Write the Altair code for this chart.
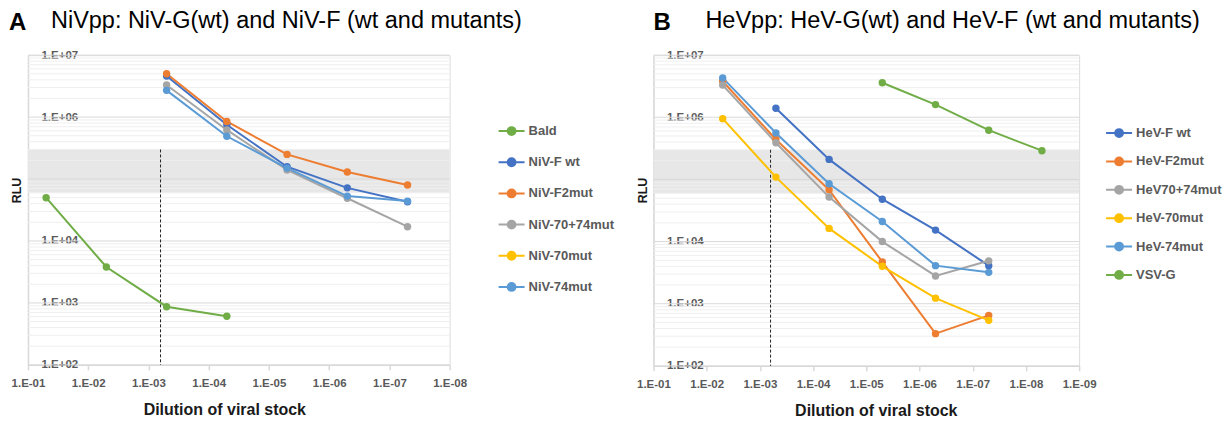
import altair as alt
import pandas as pd

FONT = "Liberation Sans"

# ---------------- Panel A : NiVpp ----------------
niv_dilution = [5e-2, 5e-3, 5e-4, 5e-5, 5e-6, 5e-7, 5e-8]
niv_series = ["Bald", "NiV-F wt", "NiV-F2mut", "NiV-70+74mut", "NiV-70mut", "NiV-74mut"]
niv_colors = ["#70AD47", "#4472C4", "#ED7D31", "#A5A5A5", "#FFC000", "#5B9BD5"]
niv_bald = [5.0e4, 3.8e3, 8.7e2, 6.1e2, None, None, None]
niv_fwt = [None, None, 4.6e6, 7.5e5, 1.58e5, 7.2e4, 4.3e4]
niv_f2mut = [None, None, 5.0e6, 8.5e5, 2.5e5, 1.3e5, 8.0e4]
niv_7074 = [None, None, 3.3e6, 6.2e5, 1.4e5, 4.9e4, 1.7e4]
niv_70 = [None, None, None, None, None, None, None]
niv_74 = [None, None, 2.7e6, 4.9e5, 1.5e5, 5.3e4, 4.4e4]
niv_values = [niv_bald, niv_fwt, niv_f2mut, niv_7074, niv_70, niv_74]

# ---------------- Panel B : HeVpp ----------------
hev_dilution = [5e-3, 5e-4, 5e-5, 5e-6, 5e-7, 5e-8, 5e-9]
hev_series = ["HeV-F wt", "HeV-F2mut", "HeV70+74mut", "HeV-70mut", "HeV-74mut", "VSV-G"]
hev_colors = ["#4472C4", "#ED7D31", "#A5A5A5", "#FFC000", "#5B9BD5", "#70AD47"]
hev_fwt = [None, 1.4e6, 2.1e5, 4.8e4, 1.53e4, 4.1e3, None]
hev_f2mut = [3.8e6, 4.4e5, 6.8e4, 4.7e3, 3.3e2, 6.5e2, None]
hev_7074 = [3.3e6, 3.9e5, 5.2e4, 1.0e4, 2.8e3, 4.9e3, None]
hev_70 = [9.5e5, 1.09e5, 1.63e4, 4.0e3, 1.23e3, 5.4e2, None]
hev_74 = [4.3e6, 5.6e5, 8.5e4, 2.1e4, 4.1e3, 3.2e3, None]
hev_vsv = [None, None, None, 3.6e6, 1.6e6, 6.2e5, 2.9e5]
hev_values = [hev_fwt, hev_f2mut, hev_7074, hev_70, hev_74, hev_vsv]

# ---------------- shared decorations ----------------
niv_x_ticks = [1e-1, 1e-2, 1e-3, 1e-4, 1e-5, 1e-6, 1e-7, 1e-8]
hev_x_ticks = [1e-1, 1e-2, 1e-3, 1e-4, 1e-5, 1e-6, 1e-7, 1e-8, 1e-9]
y_major = [1e2, 1e3, 1e4, 1e5, 1e6, 1e7]
y_minor = [m * 10 ** k for k in range(2, 7) for m in range(2, 10)]
band_low = [6e4]
band_high = [3e5]
cutoff_dilution = [6.3e-4]
cutoff_top = [3e5]
cutoff_bottom = [1e2]

PATH = "M-1,0L1,0M-0.3,0A0.3,0.3,0,1,1,0.3,0A0.3,0.3,0,1,1,-0.3,0Z"


def long_table(dilutions, series, values):
    rows = []
    for s, vals in zip(series, values):
        for d, v in zip(dilutions, vals):
            if v is not None:
                rows.append({"series": s, "dilution": d, "rlu": v})
    return pd.DataFrame(rows, columns=["series", "dilution", "rlu"])


def panel(dilutions, series, colors, values, xticks, xmin, title, letter, letter_x,
          title_dx, xtitle_x, legend_x, legend_y, row_pad, width, height):
    df = long_table(dilutions, series, values)
    xscale = alt.Scale(type="log", domain=[xmin, 0.1], reverse=True, nice=False)
    yscale = alt.Scale(type="log", domain=[1e2, 1e7], nice=False)
    xaxis = alt.Axis(
        values=xticks,
        labelExpr="'1.E-0' + round(-log(datum.value)/LN10)",
        grid=False, domainColor="#d9d9d9", domainWidth=1.5,
        tickColor="#d9d9d9", tickSize=5, tickWidth=1.5,
        labelFont=FONT, labelFontSize=11.5, labelFontWeight="bold",
        labelColor="#595959", labelPadding=8, labelOverlap=False, labelFlush=False,
        title="Dilution of viral stock", titleFont=FONT, titleFontSize=16,
        titleFontWeight="bold", titleColor="#1a1a1a", titleX=xtitle_x,
        titleY=45, titleBaseline="middle",
    )
    yaxis = alt.Axis(
        values=y_major,
        labelExpr="'1.E+0' + round(log(datum.value)/LN10)",
        grid=False, ticks=False, tickSize=0, domainColor="#d9d9d9", domainWidth=1.5,
        labelAlign="left", labelPadding=-13, labelBaseline="middle",
        labelFont=FONT, labelFontSize=11.5, labelFontWeight="bold", labelColor="#595959",
        title="RLU", titleFont=FONT, titleFontSize=12.5, titleFontWeight="bold",
        titleColor="#1a1a1a", titleAngle=270, titleX=-11, titleY=135,
        titleBaseline="middle",
    )
    legend = alt.Legend(
        orient="none", legendX=legend_x, legendY=legend_y, direction="vertical",
        title=None, symbolType=PATH, symbolSize=676, symbolStrokeWidth=2,
        symbolOpacity=1, labelFont=FONT, labelFontSize=13, labelFontWeight="bold",
        labelColor="#595959", labelOffset=3, rowPadding=row_pad, padding=0,
        labelLimit=300,
    )
    cscale = alt.Scale(domain=series, range=colors)

    band = alt.Chart(pd.DataFrame({"lo": band_low, "hi": band_high})).mark_rect(
        color="#e7e7e7"
    ).encode(
        y=alt.Y("lo:Q", scale=yscale, axis=yaxis),
        y2="hi:Q",
    )
    minor = alt.Chart(pd.DataFrame({"v": y_minor})).mark_rule(
        color="#efefef", strokeWidth=1
    ).encode(y=alt.Y("v:Q", scale=yscale, axis=yaxis))
    major = alt.Chart(pd.DataFrame({"v": y_major})).mark_rule(
        color="#d9d9d9", strokeWidth=1
    ).encode(y=alt.Y("v:Q", scale=yscale, axis=yaxis))
    cutoff = alt.Chart(pd.DataFrame({"d": cutoff_dilution, "t": cutoff_top,
                                     "b": cutoff_bottom})).mark_rule(
        color="#222222", strokeWidth=1, strokeDash=[3, 2]
    ).encode(
        x=alt.X("d:Q", scale=xscale, axis=xaxis),
        y=alt.Y("t:Q", scale=yscale, axis=yaxis),
        y2="b:Q",
    )
    lines = alt.Chart(df).mark_line(strokeWidth=2).encode(
        x=alt.X("dilution:Q", scale=xscale, axis=xaxis),
        y=alt.Y("rlu:Q", scale=yscale, axis=yaxis),
        stroke=alt.Stroke("series:N", scale=cscale, legend=legend),
        detail="series:N",
    )
    points = alt.Chart(df).mark_circle(size=55, opacity=1).encode(
        x=alt.X("dilution:Q", scale=xscale, axis=xaxis),
        y=alt.Y("rlu:Q", scale=yscale, axis=yaxis),
        fill=alt.Fill("series:N", scale=cscale, legend=legend),
    )
    letter_mark = alt.Chart(pd.DataFrame({"t": [letter]})).mark_text(
        font=FONT, fontSize=24, fontWeight="bold", align="left",
        baseline="alphabetic", color="#000000",
    ).encode(text="t:N", x=alt.value(letter_x), y=alt.value(-25))

    return alt.layer(band, minor, major, cutoff, lines, points, letter_mark).properties(
        width=width, height=height,
        title=alt.Title(title, font=FONT, fontSize=23.5, fontWeight="normal",
                        color="#000000", anchor="start", frame="group", dx=title_dx,
                        offset=-21),
    )


left = panel(niv_dilution, niv_series, niv_colors, niv_values, niv_x_ticks, 1e-8,
             "NiVpp: NiV-G(wt) and NiV-F (wt and mutants)", "A", -19,
             23, 196.5, 470, 62, 9.2, 422, 310)
right = panel(hev_dilution, hev_series, hev_colors, hev_values, hev_x_ticks, 1e-9,
              "HeVpp: HeV-G(wt) and HeV-F (wt and mutants)", "B", 0,
              52, 222.5, 452, 64, 6.4, 426, 311)

chart = alt.hconcat(left, right, spacing=20).resolve_scale(
    stroke="independent", fill="independent", x="independent"
).properties(
    padding={"left": 0, "top": 0, "right": 0, "bottom": 0}
).configure_view(stroke=None).configure(background="white")

chart.save("out.html", embed_options={"renderer": "svg", "actions": False})
